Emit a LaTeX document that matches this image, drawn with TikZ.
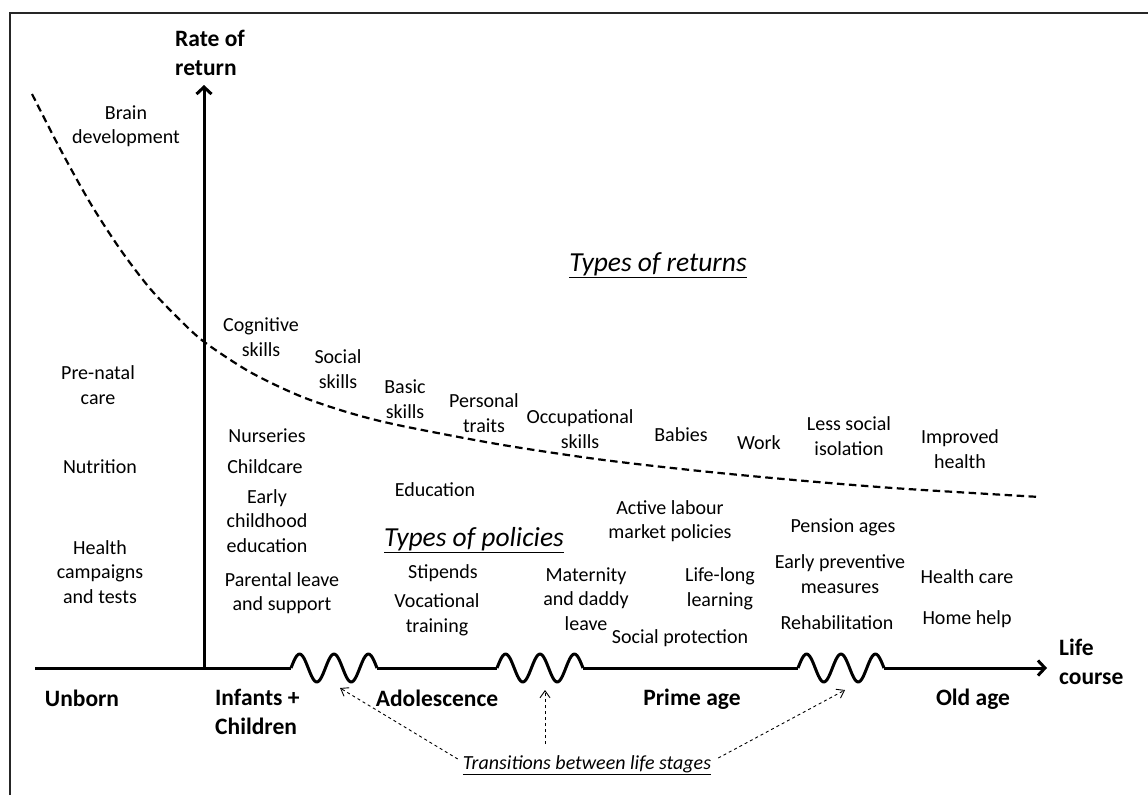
\documentclass[tikz,border=0pt]{standalone}
\usepackage{fontspec}
\setmainfont{Carlito}
\usetikzlibrary{arrows.meta}

\tikzset{
  txt/.style={align=center, inner sep=1pt, font=\fontsize{20}{24.5}\selectfont},
  stage/.style={align=left, inner sep=1pt, font=\fontsize{23.5}{29}\selectfont\bfseries},
  heading/.style={inner sep=1pt, font=\fontsize{27.5}{32}\selectfont\itshape},
  axis/.style={line width=3pt},
  axistip/.style={-{Straight Barb[length=7pt,width=15pt]}},
  trarrow/.style={dashed, line width=0.9pt, -{Straight Barb[length=7pt,width=10pt]}},
}

\begin{document}
\begin{tikzpicture}[x=1pt,y=-1pt]
\useasboundingbox (0,0) rectangle (1148,795);
% frame
\draw[line width=1.5pt, black!85] (10,795) -- (10,13) -- (1148,13);

% axes
\coordinate (origin) at (204,668);
\coordinate (ytop) at (204,85);
\coordinate (xend) at (1047,668);
\draw[axis, axistip] (origin) -- (ytop);
\draw[axis] (35,668) -- (291,668) (377,668) -- (497,668) (583,668) -- (798,668);
\draw[axis, axistip] (884,668) -- (xend);
% transitions as waves
\foreach \s in {291,497,798} {
    \draw[axis, line join=round] plot[domain=0:86, samples=60, smooth] ({\s+\x},{668-14*sin(\x/34.4*360)});
}
\coordinate (w1) at (340,688);
\coordinate (w2) at (545,690);
\coordinate (w3) at (845,690);

% rate of return curve
\draw[line width=2.2pt, dash pattern=on 7.5pt off 4.5pt] plot[smooth, tension=0.5] coordinates {
    (32,94) (60,148.6) (90,202.6) (120,249) (150,288.5) (180,320) (205,342.5)
    (250,372) (300,396) (350,413) (400,425.5) (500,444.5) (600,459.5)
    (700,471) (800,480.5) (900,488.5) (1040,497)};

% axis labels
\node[stage, anchor=west] (rate) at (174,53) {Rate of\\return};
\node[stage, anchor=west] (life) at (1058,662) {Life\\course};
\node[stage] (unborn) at (82,698) {Unborn};
\node[stage, anchor=west] (infants) at (214,712) {Infants +\\Children};
\node[stage] (adol) at (437,698) {Adolescence};
\node[stage] (prime) at (692,699) {Prime age};
\node[stage] (old) at (973,699) {Old age};

% headings
\node[heading] (returns) at (658,265) {\underline{Types of returns}};
\node[heading] (policies) at (474,540) {\underline{Types of policies}};

% types of returns
\node[txt] (brain) at (126,126) {Brain\\development};
\node[txt] (cognitive) at (261,337) {Cognitive\\skills};
\node[txt] (social) at (338,369) {Social\\skills};
\node[txt] (basic) at (405,399) {Basic\\skills};
\node[txt] (personal) at (484,413) {Personal\\traits};
\node[txt] (occup) at (580,429) {Occupational\\skills};
\node[txt] (babies) at (681,435) {Babies};
\node[txt] (work) at (759,443) {Work};
\node[txt] (isolation) at (849,436) {Less social\\isolation};
\node[txt] (health) at (960,449) {Improved\\health};

% types of policies
\node[txt] (prenatal) at (98,385) {Pre-natal\\care};
\node[txt] (nutrition) at (100,467) {Nutrition};
\node[txt] (campaigns) at (100,572) {Health\\campaigns\\and tests};
\node[txt] (nurseries) at (267,436) {Nurseries};
\node[txt] (childcare) at (265,467) {Childcare};
\node[txt] (early) at (267,521) {Early\\childhood\\education};
\node[txt] (parental) at (282,593) {Parental leave\\and support};
\node[txt] (education) at (435,490) {Education};
\node[txt] (stipends) at (443,573) {Stipends};
\node[txt] (vocational) at (437,615) {Vocational\\training};
\node[txt] (maternity) at (586,599) {Maternity\\and daddy\\leave};
\node[txt] (active) at (670,521) {Active labour\\market policies};
\node[txt] (lifelong) at (720,589) {Life-long\\learning};
\node[txt] (protection) at (680,638) {Social protection};
\node[txt] (pension) at (843,527) {Pension ages};
\node[txt] (preventive) at (840,574) {Early preventive\\measures};
\node[txt] (rehab) at (837,623) {Rehabilitation};
\node[txt] (healthcare) at (967,577) {Health care};
\node[txt] (homehelp) at (967,619) {Home help};

% transitions
\node[inner sep=1pt, font=\fontsize{20}{24}\selectfont\itshape] (trans) at (587,765) {\underline{Transitions between life stages}};
\draw[trarrow] ([xshift=-4pt,yshift=6pt]trans.west) -- (w1);
\draw[trarrow] (trans.north -| w2) ++(0,-10) -- (w2);
\draw[trarrow] ([xshift=6pt,yshift=7pt]trans.east) -- (w3);
\end{tikzpicture}
\end{document}
